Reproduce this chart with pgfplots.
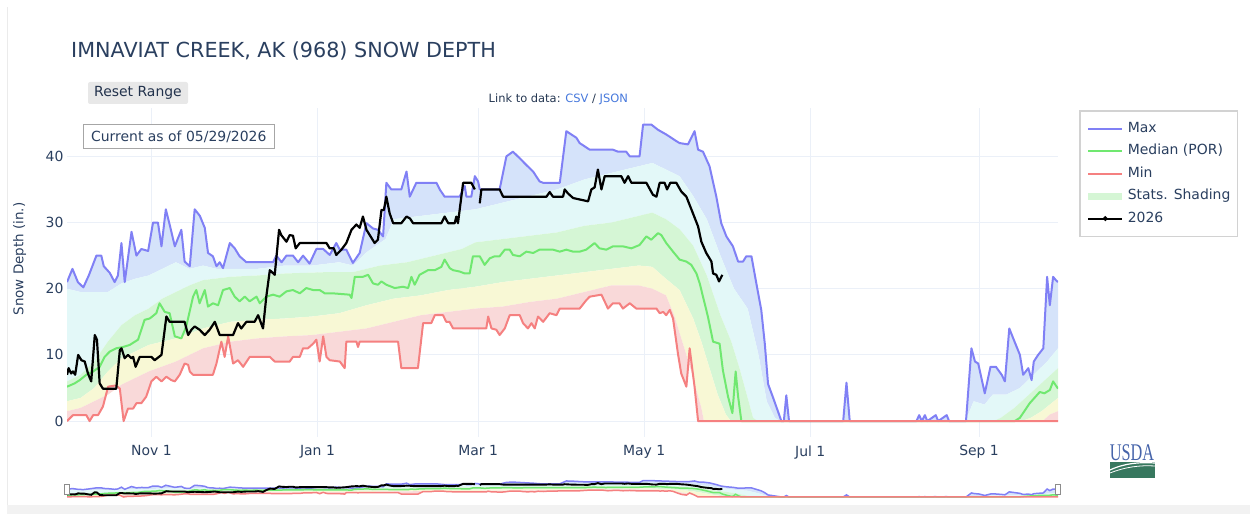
\documentclass[border=0pt]{standalone}
\usepackage{fontspec}
\setmainfont{DejaVu Sans}
\newfontfamily\serifusda{Liberation Serif}
\usepackage{pgfplots}
\pgfplotsset{compat=1.18}
\usepgfplotslibrary{fillbetween}
\usepackage{pgfplotstable}

\definecolor{txt}{RGB}{42,63,95}
\definecolor{gridc}{RGB}{235,240,248}
\definecolor{maxc}{RGB}{128,128,245}
\definecolor{medc}{RGB}{112,232,112}
\definecolor{minc}{RGB}{245,128,128}
\definecolor{bandB}{RGB}{213,227,250}
\definecolor{bandC}{RGB}{227,248,248}
\definecolor{bandG}{RGB}{213,246,213}
\definecolor{bandY}{RGB}{248,248,213}
\definecolor{bandR}{RGB}{249,217,217}
\definecolor{linkc}{RGB}{70,120,220}
\definecolor{usdab}{RGB}{70,100,170}
\definecolor{usdag}{RGB}{55,120,95}

% day 0 = Oct 1
\pgfplotstableread{
d v
0 21
2 23
4 21
6 20.2
8 22
10.8 25
12.6 25
13.5 23.4
15.7 22.4
17.5 21
18.7 22
20 26.9
21.2 21
23.7 28.6
25.5 25
27.3 26
29.8 25.7
31.6 30
33.4 30
34.7 26.4
36.3 32
37.7 29.7
39.6 26.4
42 28.9
43.2 24.1
45.1 23.4
46.9 32
48.8 31
50.6 29.2
51.8 25.4
53.6 24.9
54.9 23.4
56.1 24
57.3 23.1
59.8 26.9
61.6 26.1
63.4 24.9
65.9 24
75.7 24
76.9 25
78.8 24
80.6 25
83 25
84.9 24
86.7 25
89.1 23.8
91.6 26
94.1 26
96.5 25.1
98.9 26.9
100.2 25.9
102.6 25.9
105 23.9
107.5 25.4
110 29.9
112.4 29.1
114.2 28.9
116.1 27.9
117.3 36
119.1 35
122.8 35
124.7 37.7
125.9 33.9
128.3 36
135.7 36
136.9 35
138.7 33.9
144.2 33.9
146.1 35.5
146.7 33.9
148.5 33.9
149.8 37
151 36.2
151.6 35
158.9 35
161.4 40
163.8 40.7
166.3 39.7
168.7 38.7
171.2 37.7
173.6 36.2
174.9 36
181 36
183.4 43.8
187.1 42.8
188.3 42
192 41
200.5 41
202.4 40.7
205.4 40.7
206.7 40
210.3 40
211.6 44.8
214.6 44.8
217.1 44
220.1 43.3
223.8 42.3
225 42
228.1 41.8
230.5 43.8
231.8 41
233.6 40.7
236 38.5
238.5 33.9
240.3 29.9
242.2 27.9
244.6 26.4
246.5 24.1
248.3 24.1
249.5 24.9
251.4 24.9
253.2 20.8
255 16.8
256.3 11.7
257.5 5.6
259.3 3.6
261.2 1.4
262.4 0
263.3 0
264.2 3.9
265.2 0
285.1 0
286.3 5.8
287.5 0
312 0
313 0.9
314 0
315.1 0.9
316 0
319.1 0.9
320 0
323.1 0.9
324 0
330.2 0
332.2 11
333.5 9
334.7 8.7
337.1 4.2
339.2 8.2
341.2 8.2
343.3 7
344.5 6
346.1 14
350 10
351.2 7
353.1 8
354.3 6.2
355.1 9
356.7 10
358.6 11
360 21.8
361 17.5
362.2 21.8
363.2 21.3
364 21
}\TblMax

\pgfplotstableread{
d v
0 5.2
2.8 5.7
4.7 6.2
7.1 7
9.6 7.5
12 8.2
13.8 9.7
15.7 10.5
18.1 11
20.6 11.2
23 11.5
26.1 12.3
28.5 15.3
30.4 15.5
32.8 16.3
34 17.8
35.9 16.5
37.7 16.3
39.6 12.8
42 12.5
43.8 14.3
46.3 18.8
47.5 19.8
48.7 17.8
50.6 19.8
51.8 17.3
53.6 17.8
55.5 17.5
57.3 19.8
59.8 20.1
61.6 18.8
63.4 18.1
65.3 18.8
67.1 18.1
69.6 18.8
70.8 17.8
73.2 18.8
75.7 19.1
78.1 18.8
80.6 19.6
83 19.8
85.5 19.3
87.9 20.1
90.4 19.8
92.8 19.8
94.7 19.3
97.7 19.3
103.8 19.1
104.5 18.6
105.7 21.8
108.7 21.8
110.6 22.1
112.4 20.8
114.2 20.6
115.5 21.1
117.3 20.6
120.4 20.1
123.4 20.3
125.3 20.1
126.5 21.8
127.7 20.6
129.5 22.1
132.6 22.8
135.1 22.8
137.5 23.3
138.7 24.4
140.6 23.1
141.8 22.8
144.2 22.6
146.1 22.3
147.9 22.3
149.1 24.9
151.6 24.9
153.4 23.6
155.3 24.6
157.1 24.9
158.9 24.9
160.8 25.9
162.6 25.9
163.8 25.1
166.3 24.9
168.7 25.6
171.2 25.4
173.6 25.9
178.5 25.9
181 25.6
183.4 25.9
185.9 25.6
188.3 25.6
190.7 25.9
193.8 26.9
195.6 26.1
198.1 25.9
200.5 26.4
204.2 26.4
207.3 26.1
210.3 26.6
212.8 27.9
214.6 27.4
217.1 28.4
218.3 28.1
220.1 26.9
222.6 25.6
225 24.4
227.5 24.1
229.3 23.6
231.2 22.3
232.4 20.8
233.6 18.8
235.4 15.8
237.3 12
239.7 11.7
240.9 7.7
242.8 3.7
244.4 1.2
245.6 7.5
246.5 3.7
247.7 0
348.1 0
350 0.5
353.6 2.7
357.3 4.4
359 4.2
361 4.7
362.2 6
364 4.9
}\TblMed

\pgfplotstableread{
d v
0 0
2.2 0.9
7.1 0.9
8.3 0
9.6 0.9
11.4 0.9
13.2 2.2
15.1 5.2
18.1 5.4
19.4 4.9
20.8 0
22.4 1.9
24.3 1.9
25.5 2.7
27.3 2.7
29.1 3.7
31 6
32.8 6.7
34.7 6
36.5 6.7
38.3 6.2
39.6 6
41.4 7
43.2 8.7
44.5 8.5
45.1 7.5
46.3 7
53.6 7
54.9 8.7
56.7 12
57.9 9.7
59.2 12.8
61 8.7
62.8 9.2
64.7 8.2
67.1 9.7
74.5 9.7
76.3 9
81.8 9
83 9.7
85.5 9.7
86.7 11
88.5 11
90.4 11.7
91.6 12.3
92.8 9
94.1 12.8
95.3 9.7
96.5 9.2
100.2 9
102 8
102.6 12
106.3 12
106.9 11.2
107.5 12
121.6 12
122.8 8
128.9 8
130.8 14.8
133.8 14.8
135.1 16
138.1 16
139.3 15
140.5 15
141.8 14
154 14
154.7 15.8
155.9 14
157.7 13.8
158.9 13
160.8 14
162.6 16
166.3 16
167.5 14.8
169.3 14
170.6 14.8
171.8 14
173 15.8
174.9 15
177.3 16.3
179.8 16
181 17
188.3 17
190.8 18.3
192 18.8
196.3 19.1
198.7 17
200.5 17.8
202.9 17.8
204.2 17
206.7 17.8
209.1 17
216.5 17
217.7 16.3
219 16.5
220.1 16
221.4 16.8
222.6 15.5
224.4 10.2
225.6 7.2
227.5 5.2
228.7 11
230.5 5.2
231.8 0
364 0
}\TblMin

\pgfplotstableread{
d v
0 7
0.6 8
1.5 7.2
2.2 7.5
3 7
4.1 10
5.3 9.2
6.5 9
7.7 7.2
8.9 6
10.2 13
11 12.3
12 5.7
13.2 4.9
18.1 4.9
19.4 10.7
20 11
21.2 9.5
22.4 10
23.7 9.5
24.3 9.7
25.2 8.2
26.7 9.7
31 9.7
32.2 9.2
34.7 10
36.5 15.8
37.7 15
43.2 15
44.5 13
45.7 13.8
46.9 14.3
48.7 13.8
50.6 13
52.4 13.8
54.3 15
56.1 13
61 13
62.8 14.8
64 14
65.9 15
68.9 15
70.2 16
72 14
73.2 18.8
74.5 22.8
76.3 22.1
77.9 28.9
78.7 28.1
80.6 27.1
81.8 28.1
83 28
84 26.1
85.5 26.9
95.3 26.9
96.5 26.1
98 26.1
98.9 25.1
100.8 25.9
102.6 26.9
104.5 28.9
106.3 29.7
107.5 29.2
108.7 30.9
110 28.9
111.2 28.1
113 26.9
114.2 27.4
115.5 31.9
116.4 31.9
117.3 33.9
118.5 31.4
119.8 29.9
122.8 29.9
124.7 30.9
126 30.6
127.1 29.9
137.5 29.9
138.7 30.9
140 29.9
142.4 29.9
143 30.9
143.6 29.9
145.5 36
148.5 36
149.8 35
150.5 nan
151.6 32.9
152.2 35
158.9 35
160.2 33.9
176.1 33.9
177.3 34.6
178.5 33.9
182.2 33.9
182.8 35
184 34.4
185.9 33.7
191.4 33.2
192.6 35
193.8 35.3
195 38
196.3 35
197.5 37
203.6 37
204.8 36
206.1 37
207.3 36
212.8 36
215.2 34.2
216.5 33.9
217.7 36
219.5 36
220.4 35
221.6 36
223.8 36
225.6 34.7
227.5 33.9
229.9 31.4
231.8 29.4
233 27.1
234.8 25.4
236.7 24.1
237.3 22.3
238.5 22.1
239.5 21.1
240.7 22.1
}\TblCur

\pgfplotstableread{
d v
0 20
5 19.5
10 19.5
15 19.5
20 20.8
25 21.5
30 22
35 23
40 24
45 23
50 23.5
55 23
60 23
70 23
80 23.5
90 23.5
100 24
105 23.5
110 25.5
117 27.5
120 30.5
130 31
140 31.5
150 32
160 33
170 34
180 35
190 36.5
200 37.5
210 38.5
215 39
220 38
225 37
230 34
235 30.5
240 25
245 20
250 17
254 10
257 3
260 0.5
262 -0.03
330 -0.03
333 3
337 2.5
340 4
345 4
350 5
355 7
360 9
364 11
}\TblPninety

\pgfplotstableread{
d v
0 6
5 7
10 9
15 12
20 14.5
25 16
30 17
35 18.5
40 19.5
45 20.5
50 21.3
60 21.8
70 22
80 22.3
95 22.5
105 22.5
115 23.5
125 24
135 25
145 26
150 27
160 27.5
170 28
180 28.5
190 29.5
200 30
210 31
215 31.5
220 30.5
225 29
230 26.5
235 22
240 16
244 12
247 8
250 3.5
252 0.5
254 -0.06
340 -0.06
343 0.5
348 2
352 3.5
356 5
360 6.5
364 8
}\TblPseventy

\pgfplotstableread{
d v
0 3
5 3.5
10 5
15 7.5
20 9.5
25 10.5
30 11.5
40 12.5
50 14
60 15
70 15.3
80 15.5
90 15.8
100 16.3
110 17.5
120 18.5
130 19
140 19.8
150 20.3
160 21
170 21.5
180 22
190 22.5
200 23
210 23.5
215 23.3
220 21.5
225 19.8
230 15.5
233 12
236 8
239 4
242 1
244 -0.09
350 -0.09
354 0.5
358 1.5
361 2.5
364 3.5
}\TblPthirty

\pgfplotstableread{
d v
0 1.5
5 2
10 3
15 4
20 5.5
25 6.5
30 7.5
40 9
50 11
60 12
70 12.5
80 12.8
90 13
100 13.5
110 14
120 15
130 16
140 16.5
150 17
160 17.3
170 18
180 18.5
190 19.5
200 20.5
210 20.5
215 20
220 19
223 16
226 12
229 8
231 5
233 2
234 -0.12
358 -0.12
361 1
364 1.5
}\TblPten

\begin{document}
\begin{tikzpicture}
\fill[black!5] (7bp,0) rectangle (1250bp,9bp);
\draw[black!8, line width=1bp] (7bp,9bp) -- (7bp,507bp);

% title and page text
\node[anchor=base west, inner sep=0, text=txt, font=\fontsize{20.8}{25}\selectfont] at (71bp,456bp) {IMNAVIAT CREEK, AK (968) SNOW DEPTH};
\fill[black!9, rounded corners=2bp] (88bp,410bp) rectangle (188bp,432bp);
\node[text=txt!80!black, font=\fontsize{14}{16}\selectfont, inner sep=0] at (138bp,421bp) {Reset Range};
\node[anchor=base west, inner sep=0, font=\fontsize{11.5}{13}\selectfont] at (488.5bp,411bp) {\textcolor{txt!85!black}{Link to data:} \textcolor{linkc}{CSV} \textcolor{txt!85!black}{/} \textcolor{linkc}{JSON}};
\draw[black!35, line width=1bp, fill=white] (83.3bp,365bp) rectangle (274.3bp,389bp);
\node[text=txt, font=\fontsize{14}{16}\selectfont, inner sep=0] at (178.8bp,377bp) {Current as of 05/29/2026};
\node[rotate=90, text=txt, font=\fontsize{13.5}{16}\selectfont, inner sep=0] at (19.7bp,255bp) {Snow Depth (in.)};

% USDA logo
\node[text=usdab, font=\serifusda\fontsize{24}{26}\selectfont, xscale=0.68, inner sep=0, anchor=base] at (1132bp,53bp) {USDA};
\fill[usdag] (1110bp,36bp) rectangle (1155bp,52bp);
\draw[white, line width=1.2bp] (1110bp,44bp) .. controls (1125bp,51bp) and (1140bp,52bp) .. (1155bp,51bp);
\draw[white, line width=0.8bp] (1110bp,41bp) .. controls (1125bp,47bp) and (1140bp,49bp) .. (1155bp,48bp);

\begin{axis}[
  at={(67bp,77bp)}, anchor=south west,
  width=991bp, height=329bp, scale only axis,
  xmin=0, xmax=364, ymin=-2.4, ymax=47.3,
  axis line style={draw=none},
  major tick length=0pt,
  grid=major,
  major grid style={gridc, line width=1bp},
  xtick={31,92,151,212,273,335},
  xticklabels={Nov 1,Jan 1,Mar 1,May 1,Jul 1,Sep 1},
  ytick={0,10,20,30,40},
  /pgf/number format/assume math mode=true,
  ticklabel style={text=txt, font=\fontsize{14}{16}\selectfont},
  xticklabel style={yshift=-5bp},
  unbounded coords=jump,
  legend cell align=left,
  legend style={at={(1.02119,0.9939)}, anchor=north west,
    draw={rgb,255:red,210;green,210;blue,210}, line width=1.6bp, fill=white,
    font=\fontsize{14}{16}\selectfont, text=txt,
    inner xsep=5bp, inner ysep=9bp, row sep=5bp,
    nodes={text height=10.5bp, text depth=3bp, inner sep=2bp}},
  legend image code/.code={\draw[#1] (0bp,0bp) -- (34bp,0bp);},
]
\addplot[draw=none, name path=pmax, forget plot] table[x=d,y=v] {\TblMax};
\addplot[draw=none, name path=p90, forget plot] table[x=d,y=v] {\TblPninety};
\addplot[draw=none, name path=p70, forget plot] table[x=d,y=v] {\TblPseventy};
\addplot[draw=none, name path=p30, forget plot] table[x=d,y=v] {\TblPthirty};
\addplot[draw=none, name path=p10, forget plot] table[x=d,y=v] {\TblPten};
\addplot[draw=none, name path=pmin, forget plot] table[x=d,y=v] {\TblMin};
\addplot[bandB, draw=none, forget plot] fill between[of=pmax and p90];
\addplot[bandC, draw=none, forget plot] fill between[of=p90 and p70];
\addplot[bandG, draw=none, forget plot] fill between[of=p70 and p30];
\addplot[bandY, draw=none, forget plot] fill between[of=p30 and p10];
\addplot[bandR, draw=none, forget plot] fill between[of=p10 and pmin];
\addplot[maxc, line width=2bp, forget plot, line join=round] table[x=d,y=v] {\TblMax};
\addplot[medc, line width=2bp, forget plot, line join=round] table[x=d,y=v] {\TblMed};
\addplot[minc, line width=2bp, forget plot, line join=round] table[x=d,y=v] {\TblMin};
\addplot[black, line width=2.2bp, forget plot, line join=round] table[x=d,y=v] {\TblCur};

\addlegendimage{maxc, line width=2bp}
\addlegendentry{Max}
\addlegendimage{medc, line width=2bp}
\addlegendentry{Median (POR)}
\addlegendimage{minc, line width=2bp}
\addlegendentry{Min}
\addlegendimage{legend image code/.code={\draw[bandG, line width=7bp] (0bp,0bp) -- (34bp,0bp);}}
\addlegendentry{Stats. Shading}
\addlegendimage{legend image code/.code={\draw[black, line width=2bp] (0bp,0bp) -- (34bp,0bp); \fill[black] (17bp,0bp) circle (1.6bp);}}
\addlegendentry{2026}
\end{axis}

% range slider
\begin{axis}[
  at={(67bp,14bp)}, anchor=south west,
  width=991bp, height=22bp, scale only axis,
  xmin=0, xmax=364, ymin=-8.2, ymax=51.9,
  axis line style={draw=none}, xtick=\empty, ytick=\empty,
  unbounded coords=jump,
]
\addplot[draw=none, name path=smax] table[x=d,y=v] {\TblMax};
\addplot[draw=none, name path=sninety] table[x=d,y=v] {\TblPninety};
\addplot[draw=none, name path=sseventy] table[x=d,y=v] {\TblPseventy};
\addplot[draw=none, name path=sthirty] table[x=d,y=v] {\TblPthirty};
\addplot[draw=none, name path=sten] table[x=d,y=v] {\TblPten};
\addplot[draw=none, name path=smin] table[x=d,y=v] {\TblMin};
\addplot[bandB, draw=none] fill between[of=smax and sninety];
\addplot[bandC, draw=none] fill between[of=sninety and sseventy];
\addplot[bandG, draw=none] fill between[of=sseventy and sthirty];
\addplot[bandY, draw=none] fill between[of=sthirty and sten];
\addplot[bandR, draw=none] fill between[of=sten and smin];
\addplot[maxc, line width=1.5bp] table[x=d,y=v] {\TblMax};
\addplot[medc, line width=1.5bp] table[x=d,y=v] {\TblMed};
\addplot[minc, line width=1.5bp] table[x=d,y=v] {\TblMin};
\addplot[black, line width=1.9bp] table[x=d,y=v] {\TblCur};
\end{axis}
\draw[black!45, fill=white, line width=0.8bp] (64.3bp,19.3bp) rectangle (69.3bp,29.3bp);
\draw[black!45, fill=white, line width=0.8bp] (1055.8bp,19.3bp) rectangle (1060.8bp,29.3bp);
\pgfresetboundingbox
\path[use as bounding box] (0,0) rectangle (1250bp,514bp);
\end{tikzpicture}
\end{document}
